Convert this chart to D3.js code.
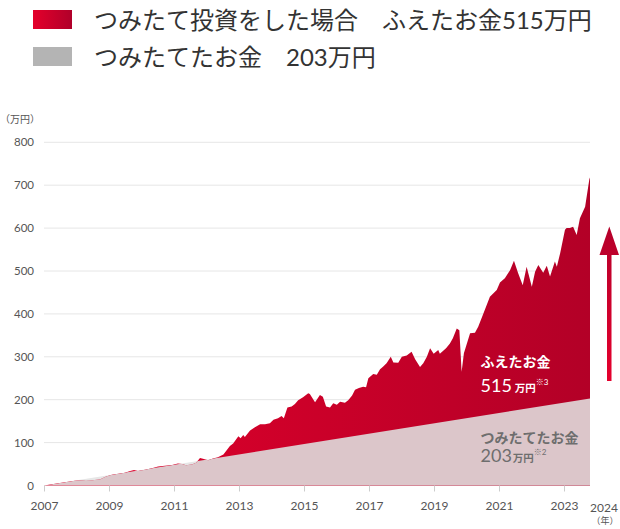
<!DOCTYPE html>
<html><head><meta charset="utf-8">
<script src="https://cdn.jsdelivr.net/npm/d3@7"></script>
<style>
body{margin:0;background:#fff;}
svg{display:block;font-family:Lato,'Noto Sans CJK JP',sans-serif;}
</style></head><body>
<svg id="c" width="620" height="529"></svg>
<script>
// ---- data ----
const years = [2007.00,2007.49,2007.95,2008.29,2008.48,2008.72,2008.91,2009.09,2009.49,2009.65,2009.77,2009.89,
2010.11,2010.32,2010.51,2010.72,2010.94,2011.12,2011.25,2011.37,2011.55,2011.68,2011.80,2011.92,2012.05,2012.20,
2012.35,2012.52,2012.72,2012.82,2012.98,2013.05,2013.13,2013.18,2013.34,2013.49,2013.65,2013.80,2013.95,2014.06,
2014.20,2014.31,2014.38,2014.49,2014.62,2014.72,2014.82,2014.97,2015.13,2015.18,2015.34,2015.49,2015.58,2015.68,
2015.80,2015.90,2016.01,2016.11,2016.26,2016.36,2016.48,2016.57,2016.69,2016.82,2016.91,2016.98,2017.13,2017.24,
2017.34,2017.43,2017.54,2017.67,2017.75,2017.90,2018.01,2018.16,2018.31,2018.42,2018.57,2018.67,2018.78,2018.88,
2018.99,2019.13,2019.18,2019.37,2019.49,2019.58,2019.70,2019.78,2019.85,2019.92,2020.11,2020.26,2020.36,2020.52,
2020.72,2020.93,2021.03,2021.18,2021.34,2021.46,2021.59,2021.73,2021.85,2022.01,2022.11,2022.21,2022.36,2022.47,
2022.57,2022.72,2022.78,2022.88,2023.03,2023.08,2023.18,2023.28,2023.39,2023.49,2023.65,2023.78,2023.80];
const values = [0,6,11,13,12,14,21,25,30,34,36,34,
37,40,44,46,48,51,50,47,49,53,64,62,59,63,
66,72,92,98,115,110,118,113,128,136,143,143,145,153,
157,162,157,182,184,190,199,206,215,213,194,211,207,184,
182,192,188,195,193,199,210,223,227,230,229,250,260,258,
271,277,285,300,287,286,300,303,312,294,276,285,300,320,
307,316,307,320,331,343,366,362,265,308,355,356,370,401,
440,456,473,483,502,524,495,467,510,463,498,514,496,512,
487,522,510,541,596,600,600,603,584,623,650,714,718];
const principalYears = [2007.00, 2023.80];
const principalValues = [0, 203];
const yTicks = [0,100,200,300,400,500,600,700,800];
const xTicks = [2007,2009,2011,2013,2015,2017,2019,2021,2023];
const legendLabels = ["つみたて投資をした場合　ふえたお金515万円", "つみたてたお金　203万円"];
const gainLabel = "ふえたお金", gainValue = "515", gainNote = "※3";
const principalLabel = "つみたてたお金", principalValue = "203", principalNote = "※2";

// ---- scales ----
const svg = d3.select("#c");
const x = d3.scaleLinear().domain([2007, 2024]).range([44, 596.5]);
const y = d3.scaleLinear().domain([0, 800]).range([485.5, 142.3]);

const defs = svg.append("defs");
const g1 = defs.append("linearGradient").attr("id","redArea").attr("gradientUnits","userSpaceOnUse")
  .attr("x1",44).attr("x2",590).attr("y1",0).attr("y2",0);
g1.append("stop").attr("offset","0").attr("stop-color","#e3002b");
g1.append("stop").attr("offset","1").attr("stop-color","#b30027");
const g2 = defs.append("linearGradient").attr("id","redLegend").attr("x1","0").attr("x2","1").attr("y1","0").attr("y2","0");
g2.append("stop").attr("offset","0").attr("stop-color","#e4002b");
g2.append("stop").attr("offset","1").attr("stop-color","#b0002a");
const g3 = defs.append("linearGradient").attr("id","redArrow").attr("x1","0").attr("x2","0").attr("y1","0").attr("y2","1");
g3.append("stop").attr("offset","0").attr("stop-color","#b5002a");
g3.append("stop").attr("offset","1").attr("stop-color","#e5002d");

// ---- grid ----
svg.append("g").selectAll("line").data(yTicks).join("line")
  .attr("x1",44).attr("x2",590).attr("y1",d=>y(d)).attr("y2",d=>y(d))
  .attr("stroke","#e6e6e6").attr("stroke-width",1);

// ---- areas ----
const valueData = years.map((yr,i)=>[yr, values[i]]);
const principalData = principalYears.map((yr,i)=>[yr, principalValues[i]]);
const area = d3.area().x(d=>x(d[0])).y0(y(0)).y1(d=>y(d[1]));

defs.append("clipPath").attr("id","pclip").append("path").attr("d", area(principalData));
svg.append("path").attr("d", area(principalData)).attr("fill","#e6e6e6");
svg.append("path").attr("d", area(valueData)).attr("fill","url(#redArea)");
svg.append("path").attr("d", area(valueData)).attr("fill","#dcc6ca").attr("clip-path","url(#pclip)");

// ---- axes ----
const yAxis = svg.append("g").attr("transform","translate(34,0)")
  .call(d3.axisLeft(y).tickValues(yTicks).tickSize(0).tickPadding(0));
yAxis.select(".domain").remove();
yAxis.selectAll("text").attr("font-size",11.5).attr("fill","#555").attr("font-family","Lato,sans-serif");

const xAxis = svg.append("g").attr("transform",`translate(0,${y(0)})`)
  .call(d3.axisBottom(x).tickValues(xTicks).tickFormat(d3.format("d")).tickSize(6).tickPadding(10));
xAxis.select(".domain").remove();
xAxis.selectAll("line").attr("stroke","#cccccc");
xAxis.selectAll("text").attr("font-size",12).attr("fill","#555").attr("font-family","Lato,sans-serif");

svg.append("text").attr("x",604).attr("y",512).attr("text-anchor","middle")
  .attr("font-size",12).attr("fill","#555").text("2024");
svg.append("text").attr("x",605).attr("y",524).attr("text-anchor","middle")
  .attr("font-size",9).attr("fill","#555").text("（年）");
svg.append("text").attr("x",0).attr("y",123)
  .attr("font-size",10).attr("fill","#555").text("（万円）");

// ---- legend ----
const legendFills = ["url(#redLegend)","#b4b4b4"];
const lg = svg.append("g").selectAll("g").data(legendLabels).join("g")
  .attr("transform",(d,i)=>`translate(0,${i*37})`);
lg.append("rect").attr("x",33).attr("y",10).attr("width",39).attr("height",19).attr("fill",(d,i)=>legendFills[i]);
lg.append("text").attr("x",94).attr("y",28.5).attr("font-size",24).attr("fill","#333").text(d=>d);

// ---- annotations ----
svg.append("text").attr("x",480.5).attr("y",367).attr("font-size",14).attr("font-weight","bold")
  .attr("fill","#fff").text(gainLabel);
const t1 = svg.append("text").attr("x",480.5).attr("y",391.5).attr("fill","#fff");
t1.append("tspan").attr("font-size",18).text(gainValue);
t1.append("tspan").attr("font-size",10.5).attr("font-weight","bold").attr("dx",3).text("万円");
t1.append("tspan").attr("font-size",8).attr("dy",-7).text(gainNote);

svg.append("text").attr("x",480.5).attr("y",442.5).attr("font-size",14).attr("font-weight","bold")
  .attr("fill","#6e6e6e").text(principalLabel);
const t2 = svg.append("text").attr("x",480.5).attr("y",461.5).attr("fill","#6e6e6e");
t2.append("tspan").attr("font-size",18).text(principalValue);
t2.append("tspan").attr("font-size",10.5).attr("font-weight","bold").attr("dx",1).text("万円");
t2.append("tspan").attr("font-size",8).attr("dy",-7).text(principalNote);

// ---- arrow ----
const ap = d3.path();
ap.moveTo(609.3,226.5); ap.lineTo(619,255); ap.lineTo(611.5,255); ap.lineTo(611.5,381);
ap.lineTo(607,381); ap.lineTo(607,255); ap.lineTo(599.5,255); ap.closePath();
svg.append("path").attr("d",ap.toString()).attr("fill","url(#redArrow)");
</script></body></html>
